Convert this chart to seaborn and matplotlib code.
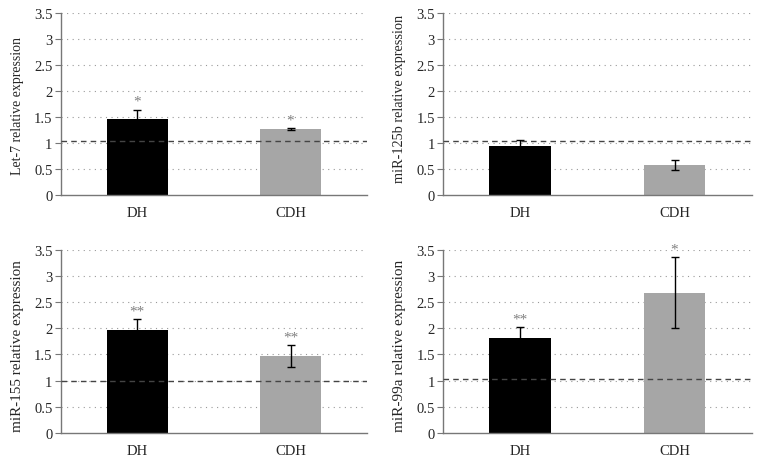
import numpy as np
import pandas as pd
import matplotlib
matplotlib.use('Agg')
import matplotlib.pyplot as plt
import seaborn as sns

groups = ['DH', 'CDH']
genes = ['Let-7', 'miR-125b', 'miR-155', 'miR-99a']
means = {'Let-7': [1.45, 1.27], 'miR-125b': [0.93, 0.57],
         'miR-155': [1.97, 1.47], 'miR-99a': [1.82, 2.68]}
errs = {'Let-7': [0.19, 0.02], 'miR-125b': [0.12, 0.10],
        'miR-155': [0.20, 0.21], 'miR-99a': [0.21, 0.68]}
stars = {'Let-7': ['*', '*'], 'miR-125b': ['', ''],
         'miR-155': ['**', '**'], 'miR-99a': ['**', '*']}
baseline = {'Let-7': 1.03, 'miR-125b': 1.03, 'miR-155': 1.0, 'miR-99a': 1.03}
label_size = {'Let-7': 10.0, 'miR-125b': 10.3, 'miR-155': 10.9, 'miR-99a': 11.0}
label_y = {'Let-7': 0.495, 'miR-125b': 0.53, 'miR-155': 0.48, 'miR-99a': 0.48}

sns.set_style('white')
plt.rcParams['font.family'] = ['Liberation Serif', 'DejaVu Serif']

fig = plt.figure(figsize=(7.6, 4.64), dpi=100)
boxes = [[0.080, 0.578, 0.403, 0.392], [0.583, 0.578, 0.406, 0.392],
         [0.080, 0.065, 0.403, 0.394], [0.583, 0.065, 0.406, 0.394]]

for gene, box in zip(genes, boxes):
    ax = fig.add_axes(box)
    df = pd.DataFrame({'group': groups, 'value': means[gene]})
    sns.barplot(data=df, x='group', y='value', hue='group', palette=['#000000', '#a6a6a6'],
                width=0.4, errorbar=None, legend=False, ax=ax, edgecolor='none')
    ax.errorbar(range(len(groups)), means[gene], yerr=errs[gene], fmt='none',
                ecolor='#000000', elinewidth=1, capsize=3, capthick=1)
    for i, s in enumerate(stars[gene]):
        if s:
            ax.text(i, means[gene][i] + errs[gene][i] + 0.03, s, ha='center', va='bottom',
                    color='#808080', fontsize=11)
    ax.axhline(baseline[gene], color='#444444', lw=1, ls=(0, (4, 3)), zorder=3)
    ax.set_ylim(0, 3.5)
    ax.set_xlim(-0.5, 1.5)
    ax.set_yticks(np.arange(0, 3.51, 0.5))
    ax.set_yticklabels(['0', '0.5', '1', '1.5', '2', '2.5', '3', '3.5'], fontsize=10.5)
    for y in np.arange(0.5, 3.51, 0.5):
        ax.axhline(y, color='#999999', lw=0.8, ls=(0, (1, 4)), zorder=0)
    ax.set_xticks([0, 1])
    ax.set_xticklabels(groups, fontsize=10.5)
    ax.tick_params(axis='x', length=0, pad=8)
    ax.set_xticks([-0.5, 0.5, 1.5], minor=True)
    ax.tick_params(axis='x', which='minor', length=4, color='#777777', direction='out')
    ax.tick_params(axis='y', length=4, color='#777777', direction='out', left=True, pad=2)
    ax.set_xlabel('')
    ax.set_ylabel(gene + ' relative expression', fontsize=label_size[gene])
    ax.yaxis.set_label_coords(-0.12, label_y[gene])
    for side in ['top', 'right']:
        ax.spines[side].set_visible(False)
    for side in ['left', 'bottom']:
        ax.spines[side].set_color('#777777')
        ax.spines[side].set_linewidth(1)

fig.savefig('out.png', dpi=100)
